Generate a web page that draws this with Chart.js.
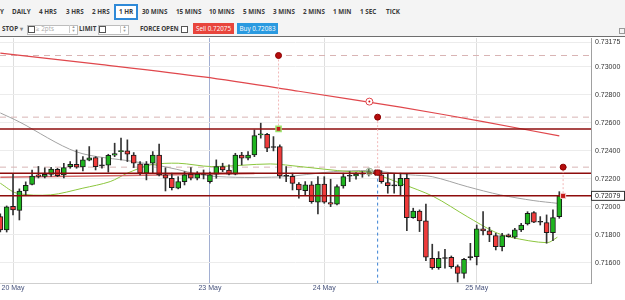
<!DOCTYPE html>
<html lang="en">
<head>
<meta charset="UTF-8">
<title>1 HR chart</title>
<script src="https://cdn.jsdelivr.net/npm/chart.js"></script>
<style>
  body { margin: 0; width: 625px; height: 300px; overflow: hidden; background: #fff; position: relative;
         font-family: "Open Sans", "Liberation Sans", Arial, sans-serif; }
  .toolbar { position: absolute; left: 0; top: 0; width: 625px; height: 36px; background: #f4f4f4; border-bottom: 1px solid #6e6e6e; }
  .tb { position: absolute; font-size: 6.3px; font-weight: bold; color: #3a3a3a; line-height: 8px; white-space: nowrap; }
  .sel { position: absolute; left: 114px; top: 4px; width: 20px; height: 12px; border: 2px solid #2f8ad8; background: #fff; }
  .box { position: absolute; height: 8px; border: 1px solid #bdbdbd; background: #fff; }
  .chk { position: absolute; width: 5px; height: 5px; border: 1px solid #555; background: #fff; }
  .spin { position: absolute; width: 7px; height: 8px; border-left: 1px solid #ccc; color: #999; font-size: 4px; line-height: 4px; text-align: center; }
  .btn { position: absolute; top: 23px; height: 11px; color: #fff; font-size: 6.3px; line-height: 11px; text-align: center; }
  .icon { position: absolute; left: 619px; top: 28px; width: 4px; height: 4px; border: 1px solid #999; }
  #wrap { position: absolute; left: 0; top: 37px; width: 625px; height: 263px; }
</style>
</head>
<body>
<div class="toolbar">
  <span class="tb" style="left:0;top:8px">Y</span>
  <span class="tb" style="left:12px;top:8px">DAILY</span>
  <span class="tb" style="left:39px;top:8px">4 HRS</span>
  <span class="tb" style="left:66px;top:8px">3 HRS</span>
  <span class="tb" style="left:92px;top:8px">2 HRS</span>
  <div class="sel"></div>
  <span class="tb" style="left:119px;top:8px">1 HR</span>
  <span class="tb" style="left:142px;top:8px">30 MINS</span>
  <span class="tb" style="left:176px;top:8px">15 MINS</span>
  <span class="tb" style="left:209px;top:8px">10 MINS</span>
  <span class="tb" style="left:243px;top:8px">5 MINS</span>
  <span class="tb" style="left:273px;top:8px">3 MINS</span>
  <span class="tb" style="left:303px;top:8px">2 MINS</span>
  <span class="tb" style="left:333px;top:8px">1 MIN</span>
  <span class="tb" style="left:360px;top:8px">1 SEC</span>
  <span class="tb" style="left:386px;top:8px">TICK</span>

  <span class="tb" style="left:2px;top:25px">STOP <span style="color:#888">&#9662;</span></span>
  <div class="box" style="left:27px;top:25px;width:49px"></div>
  <div class="chk" style="left:28px;top:26px"></div>
  <span class="tb" style="left:36px;top:25px;font-weight:normal;color:#aaa">&ge; 2pts</span>
  <div class="spin" style="left:69px;top:25px">&#9650;<br>&#9660;</div>
  <span class="tb" style="left:79px;top:25px">LIMIT</span>
  <div class="box" style="left:98px;top:25px;width:29px"></div>
  <div class="chk" style="left:99px;top:26px"></div>
  <div class="spin" style="left:120px;top:25px">&#9650;<br>&#9660;</div>
  <span class="tb" style="left:140px;top:25px;letter-spacing:-0.1px">FORCE OPEN</span>
  <div class="chk" style="left:181px;top:26px"></div>
  <div class="btn" style="left:193px;width:41px;background:#e8453c">Sell 0.72075</div>
  <div class="btn" style="left:237px;width:41px;background:#2a9ae0">Buy 0.72083</div>
  <div class="icon"></div>
</div>

<div id="wrap"><canvas id="chart" width="625" height="263"></canvas></div>

<script>
// hourly candles, oldest first
const candleOpen = [0.71931,0.71836,0.72004,0.71975,0.72114,0.72161,0.72229,0.72218,0.72232,0.72269,
  0.72229,0.72288,0.72305,0.72286,0.72334,0.72352,0.72293,0.72298,0.72369,0.72395,
  0.72400,0.72371,0.72307,0.72241,0.72312,0.72371,0.72229,0.72205,0.72134,0.72181,
  0.72234,0.72205,0.72234,0.72181,0.72234,0.72288,0.72264,0.72234,0.72371,0.72348,
  0.72371,0.72514,0.72519,0.72424,0.72431,0.72221,0.72218,0.72164,0.72116,0.72157,
  0.72034,0.72164,0.72031,0.72019,0.72150,0.72221,0.72221,0.72236,0.72236,0.72250,
  0.72229,0.72174,0.72150,0.72150,0.72205,0.71924,0.71971,0.71900,0.71634,0.71566,
  0.71634,0.71641,0.71574,0.71526,0.71638,0.71645,0.71843,0.71829,0.71795,0.71716,
  0.71800,0.71784,0.71836,0.71879,0.71959,0.71891,0.71888,0.71816,0.71931];
const candleHigh = [0.71950,0.72007,0.72236,0.72129,0.72179,0.72264,0.72289,0.72279,0.72282,0.72276,
  0.72312,0.72324,0.72407,0.72359,0.72431,0.72359,0.72350,0.72376,0.72455,0.72491,
  0.72479,0.72388,0.72324,0.72324,0.72395,0.72448,0.72279,0.72241,0.72216,0.72252,
  0.72281,0.72252,0.72264,0.72248,0.72336,0.72312,0.72300,0.72383,0.72390,0.72395,
  0.72550,0.72598,0.72526,0.72502,0.72443,0.72288,0.72241,0.72174,0.72181,0.72181,
  0.72216,0.72216,0.72198,0.72157,0.72241,0.72252,0.72245,0.72252,0.72276,0.72264,
  0.72259,0.72241,0.72236,0.72241,0.72236,0.71991,0.71979,0.72021,0.71734,0.71681,
  0.71698,0.71650,0.71586,0.71634,0.71740,0.71871,0.71966,0.71855,0.71812,0.71812,
  0.71807,0.71848,0.71883,0.71966,0.71966,0.71931,0.71943,0.71979,0.72109];
const candleLow = [0.71821,0.71821,0.71943,0.71907,0.72086,0.72157,0.72207,0.72207,0.72218,0.72216,
  0.72207,0.72276,0.72276,0.72257,0.72329,0.72264,0.72276,0.72248,0.72359,0.72336,
  0.72324,0.72281,0.72229,0.72193,0.72241,0.72221,0.72114,0.72121,0.72129,0.72157,
  0.72193,0.72193,0.72200,0.72169,0.72205,0.72252,0.72229,0.72229,0.72300,0.72336,
  0.72359,0.72491,0.72395,0.72400,0.72205,0.72181,0.72121,0.72062,0.72086,0.72026,
  0.71950,0.72026,0.72002,0.72014,0.72134,0.72181,0.72198,0.72212,0.72221,0.72229,
  0.72169,0.72098,0.72098,0.72086,0.71831,0.71919,0.71824,0.71616,0.71555,0.71555,
  0.71562,0.71562,0.71464,0.71491,0.71621,0.71586,0.71800,0.71752,0.71693,0.71686,
  0.71784,0.71776,0.71824,0.71871,0.71888,0.71871,0.71741,0.71759,0.71919];
const candleClose = [0.71836,0.72000,0.71979,0.72114,0.72154,0.72221,0.72218,0.72232,0.72271,0.72224,
  0.72281,0.72305,0.72284,0.72336,0.72350,0.72288,0.72296,0.72369,0.72381,0.72399,
  0.72376,0.72312,0.72241,0.72305,0.72371,0.72229,0.72205,0.72138,0.72181,0.72229,
  0.72205,0.72234,0.72232,0.72229,0.72288,0.72264,0.72234,0.72371,0.72348,0.72371,
  0.72509,0.72519,0.72419,0.72425,0.72221,0.72219,0.72168,0.72121,0.72157,0.72038,
  0.72164,0.72034,0.72019,0.72145,0.72216,0.72219,0.72234,0.72234,0.72252,0.72246,
  0.72181,0.72152,0.72151,0.72205,0.71924,0.71971,0.71900,0.71641,0.71566,0.71634,
  0.71632,0.71574,0.71526,0.71626,0.71639,0.71843,0.71829,0.71800,0.71716,0.71795,
  0.71788,0.71836,0.71871,0.71955,0.71891,0.71893,0.71816,0.71924,0.72079];

// moving averages, [hour index, price]
const maSlow = [[0,0.73098],[16,0.73016],[32,0.72928],[47,0.72826],[63,0.72712],[76,0.72609],[88,0.72507]];
const maMid = [[0,0.72671],[3,0.72607],[12,0.72393],[21,0.72324],[26,0.72286],[33,0.72221],[44,0.72214],
  [52.5,0.72252],[58,0.72259],[64.5,0.72229],[68,0.72216],[73.5,0.72145],[78.7,0.72086],[84,0.72045],[87.7,0.72026]];
const maFast = [[0,0.72169],[2.6,0.72098],[7.9,0.72086],[13,0.72134],[17.3,0.72181],[20,0.72241],[23.6,0.72300],
  [28,0.72312],[33.3,0.72288],[42.5,0.72307],[47.2,0.72288],[55,0.72252],[57.8,0.72252],[59.4,0.72229],
  [63,0.72169],[68.2,0.72074],[73.5,0.71931],[77.7,0.71824],[80.3,0.71784],[86.1,0.71745],[87.7,0.71784]];
const maBase = [[0,0.72212],[20,0.72225],[40,0.72239]];

// price levels and orders
const solidLevels = [0.72557, 0.72241, 0.72079];
const dashedLevels = [0.73081, 0.72641, 0.72284];
const orderX = [43.8, 59.4, 88.6];
const orderTarget = [0.73081, 0.72641, 0.72284];
const orderEntry = [0.72557, 0.72245, 0.72079];
const maMarker = [58.1, 0.72752];
const tradeMarker = [58.1, 0.72252];
const lastPrice = 0.72079;

// axes
const dayTicks = [2, 33, 51, 75];
const dayLabels = ['20 May', '23 May', '24 May', '25 May'];
const priceTicks = [0.716, 0.718, 0.720, 0.722, 0.724, 0.726, 0.728, 0.730, 0.73175];
const xMin = -0.05, xMax = 92.99;
const yMin = 0.71457, yMax = 0.73206;

const UP = '#1fb51f', DOWN = '#ef3b3b', DOJI = '#222';
const bodyColors = candleOpen.map((o, i) => {
    const c = candleClose[i];
    if (Math.abs(c - o) < 0.00004) return DOJI;
    return c > o ? UP : DOWN;
});

const toPts = arr => arr.map(p => ({ x: p[0], y: p[1] }));

const datasets = [];
datasets.push({
    type: 'bar', label: 'wick', order: 20, grouped: false,
    data: candleOpen.map((o, i) => ({ x: i, y: [candleLow[i], candleHigh[i]] })),
    backgroundColor: '#333', barThickness: 1, borderWidth: 0
});
datasets.push({
    type: 'bar', label: 'body', order: 19, grouped: false,
    data: candleOpen.map((o, i) => ({ x: i, y: [o, candleClose[i]] })),
    backgroundColor: bodyColors, borderColor: '#1a1a1a', borderWidth: 1, borderSkipped: false,
    barThickness: 5, minBarLength: 1
});
datasets.push({ type: 'line', order: 25, data: toPts(maMid), borderColor: '#a3a3a3', borderWidth: 1, pointRadius: 0, tension: 0.3 });
datasets.push({ type: 'line', order: 24, data: toPts(maFast), borderColor: '#8cc63e', borderWidth: 1, pointRadius: 0, tension: 0.3 });
datasets.push({ type: 'line', order: 23, data: toPts(maBase), borderColor: '#d46a6a', borderWidth: 1.5, pointRadius: 0 });
datasets.push({ type: 'line', order: 5, data: toPts(maSlow), borderColor: '#e0474c', borderWidth: 1.2, pointRadius: 0, tension: 0.3 });

dashedLevels.forEach(p => datasets.push({
    type: 'line', order: 26, data: [{ x: xMin, y: p }, { x: xMax, y: p }],
    borderColor: '#d9b4b4', borderWidth: 1, borderDash: [6, 5], pointRadius: 0
}));
solidLevels.forEach(p => datasets.push({
    type: 'line', order: 4, data: [{ x: xMin, y: p }, { x: xMax, y: p }],
    borderColor: '#8e0c0c', borderWidth: 1.5, pointRadius: 0
}));
orderX.forEach((x, i) => datasets.push({
    type: 'line', order: 3, data: [{ x: x, y: orderTarget[i] }, { x: x, y: orderEntry[i] }],
    borderColor: '#f2b8b8', borderWidth: 1, borderDash: [2, 2], pointRadius: 0
}));
datasets.push({
    type: 'line', order: 3, data: [{ x: orderX[1], y: orderEntry[1] }, { x: orderX[1], y: yMin }],
    borderColor: '#3b82d4', borderWidth: 1, borderDash: [3, 3], pointRadius: 0
});
datasets.push({
    type: 'line', order: 1, showLine: false,
    data: orderX.map((x, i) => ({ x: x, y: orderTarget[i] })),
    pointStyle: 'circle', pointRadius: 3, backgroundColor: '#b50d0d', borderColor: '#8a0000', borderWidth: 1
});
datasets.push({
    type: 'line', order: 1, showLine: false,
    data: orderX.map((x, i) => ({ x: x, y: orderEntry[i] })),
    pointStyle: 'rect', pointRadius: 3.6,
    backgroundColor: ['#c41818', '#c41818', '#c41818'],
    borderColor: ['#9be36b', '#8a0000', '#f4d0d0'], borderWidth: [1.5, 1, 1]
});
datasets.push({
    type: 'line', order: 1, showLine: false, data: [{ x: maMarker[0], y: maMarker[1] }],
    pointStyle: 'circle', pointRadius: 3.5, backgroundColor: '#fff', borderColor: '#e0474c', borderWidth: 1
});
datasets.push({
    type: 'line', order: 0, showLine: false, data: [{ x: maMarker[0], y: maMarker[1] }],
    pointStyle: 'circle', pointRadius: 1, backgroundColor: '#d01010', borderWidth: 0
});
datasets.push({
    type: 'line', order: 1, showLine: false, data: [{ x: tradeMarker[0], y: tradeMarker[1] }],
    pointStyle: 'circle', pointRadius: 3.5, backgroundColor: 'rgba(160,220,140,0.35)', borderColor: '#a8b8a0', borderWidth: 1
});

// current price box on the right axis
const priceBox = {
    id: 'priceBox',
    afterDraw(chart) {
        const ctx = chart.ctx;
        const y = chart.scales.y.getPixelForValue(lastPrice);
        const left = chart.chartArea.right;
        ctx.save();
        ctx.fillStyle = '#fff';
        ctx.fillRect(left, y - 5, 34, 10);
        ctx.strokeStyle = '#333';
        ctx.lineWidth = 1;
        ctx.strokeRect(left + 0.5, y - 4.5, 33, 9);
        ctx.fillStyle = '#222';
        ctx.font = '7px "Liberation Sans", Arial, sans-serif';
        ctx.textBaseline = 'middle';
        ctx.fillText(lastPrice.toFixed(5), left + 4, y + 0.5);
        ctx.restore();
    }
};

new Chart(document.getElementById('chart'), {
    type: 'bar',
    data: { datasets: datasets },
    options: {
        responsive: false,
        animation: false,
        devicePixelRatio: 1,
        layout: { autoPadding: false, padding: { top: 1, left: 0, right: 0, bottom: 0 } },
        plugins: { legend: { display: false }, tooltip: { enabled: false } },
        scales: {
            x: {
                type: 'linear', position: 'bottom', min: xMin, max: xMax, offset: false,
                afterBuildTicks: s => { s.ticks = dayTicks.map(v => ({ value: v })); },
                afterFit: s => { s.height = 17; s.paddingLeft = 0; s.paddingRight = 0; },
                ticks: {
                    callback: v => dayLabels[dayTicks.indexOf(v)],
                    font: { size: 7, family: '"Liberation Sans", Arial, sans-serif' },
                    color: '#44507a', padding: 1, maxRotation: 0, autoSkip: false
                },
                grid: {
                    offset: false,
                    color: ctx => (ctx.tick && ctx.tick.value === 33) ? '#a2afd2' : '#dedede',
                    drawTicks: false
                },
                border: { color: '#cfcfcf' }
            },
            y: {
                position: 'right', min: yMin, max: yMax,
                afterBuildTicks: s => { s.ticks = priceTicks.map(v => ({ value: v })); },
                afterFit: s => { s.width = 34; s.paddingTop = 0; s.paddingBottom = 0; },
                ticks: {
                    callback: v => v.toFixed(5),
                    font: { size: 7, family: '"Liberation Sans", Arial, sans-serif' },
                    color: '#333', padding: 4
                },
                grid: { color: '#ececec', drawTicks: false },
                border: { color: '#a0a0a0' }
            }
        }
    },
    plugins: [priceBox]
});
</script>
</body>
</html>
